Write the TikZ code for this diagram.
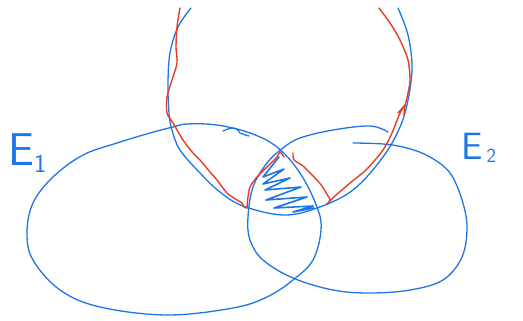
\documentclass[tikz,border=0pt]{standalone}
\usepackage{xcolor}
\usepackage{tikz}
\definecolor{penblue}{RGB}{28,118,232}
\definecolor{penred}{RGB}{232,60,40}
\tikzset{
  outline/.style={draw=penblue, line width=1.3pt, line cap=round, line join=round},
  trace/.style={draw=penred, line width=1.4pt, line cap=round, line join=round},
  hatchline/.style={draw=penblue, line width=1.6pt, line cap=round, line join=round},
  setlabel/.style={text=penblue, inner sep=0pt, font=\sffamily},
}

\begin{document}
\begin{tikzpicture}[x=1pt, y=-1pt]
  \useasboundingbox (0,0) rectangle (523,321);

  % --- top circle (runs off the top) ---
  \draw[outline] plot[smooth, tension=0.6] coordinates {
    (191,8) (178,27) (170,53) (168,83) (169,113) (172,130) (180,150) (200,173)
    (220,192) (243,206) (283,215) (317,208) (353,190) (383,157) (400,127)
    (408,100) (412,67) (408,35) (398,8)};

  % --- E1 ---
  \draw[outline] plot[smooth cycle, tension=0.6] coordinates {
    (187,124) (217,125) (250,133) (277,147) (300,173) (317,207) (321,230)
    (313,260) (293,280) (267,297) (233,308) (167,315) (100,307) (60,290)
    (33,260) (27,233) (33,203) (53,177) (83,155) (117,143) (150,133) (173,127)};

  % --- E2 ---
  \draw[outline] plot[smooth, tension=0.6] coordinates {
    (388,132) (370,126) (333,130) (300,138) (283,148) (267,163) (253,187)
    (248,217) (250,240) (263,260) (293,278) (333,290) (370,293) (410,290)
    (443,280) (462,257) (467,227) (462,200) (450,173) (430,157) (407,148)
    (383,144) (353,143)};

  % --- small stroke inside E1 ---
  \draw[outline] plot[smooth, tension=0.7] coordinates {
    (223,131) (232,128) (238,130) (240,133) (249,136)};

  % --- red traces ---
  \draw[trace] plot[smooth, tension=0.5] coordinates {
    (180,8) (177,27) (176,47) (177,63) (172,80) (167,97) (167,113) (173,123)
    (183,140) (193,153) (200,160) (210,172) (217,180) (227,193) (237,200)
    (242,203) (244,207) (247,208)};
  \draw[trace] plot[smooth, tension=0.5] coordinates {
    (247,208) (248,197) (250,187) (257,177) (267,167) (277,157) (280,152) (284,157)};
  \draw[trace] plot[smooth, tension=0.5] coordinates {
    (293,153) (294,160) (303,166) (315,178) (322,186) (328,196) (330,200)
    (327,204) (335,196) (350,183) (367,169) (383,150) (392,133) (400,113)
    (405,105) (408,93) (410,80) (408,60) (400,40) (390,23) (379,8)};
  \draw[trace] (398,113) -- (405,105) -- (404,115);

  % --- hatch of the triple overlap ---
  \draw[hatchline] (279,157) -- (263,177) -- (284,169) -- (263,184) -- (290,178)
    -- (265,190) -- (301,187) -- (266,200) -- (307,197) -- (274,208) -- (313,206)
    -- (293,212) -- (314,208);

  % --- labels ---
  \node[setlabel, anchor=base west] (lblEone) at (8,166)
    {\fontsize{46}{46}\selectfont E\raisebox{-6pt}{\fontsize{26}{26}\selectfont 1}};
  \node[setlabel, anchor=base west] (lblEtwo) at (461,160)
    {\fontsize{38}{38}\selectfont E\kern4pt\raisebox{-2pt}{\fontsize{20}{20}\selectfont 2}};
\end{tikzpicture}
\end{document}
